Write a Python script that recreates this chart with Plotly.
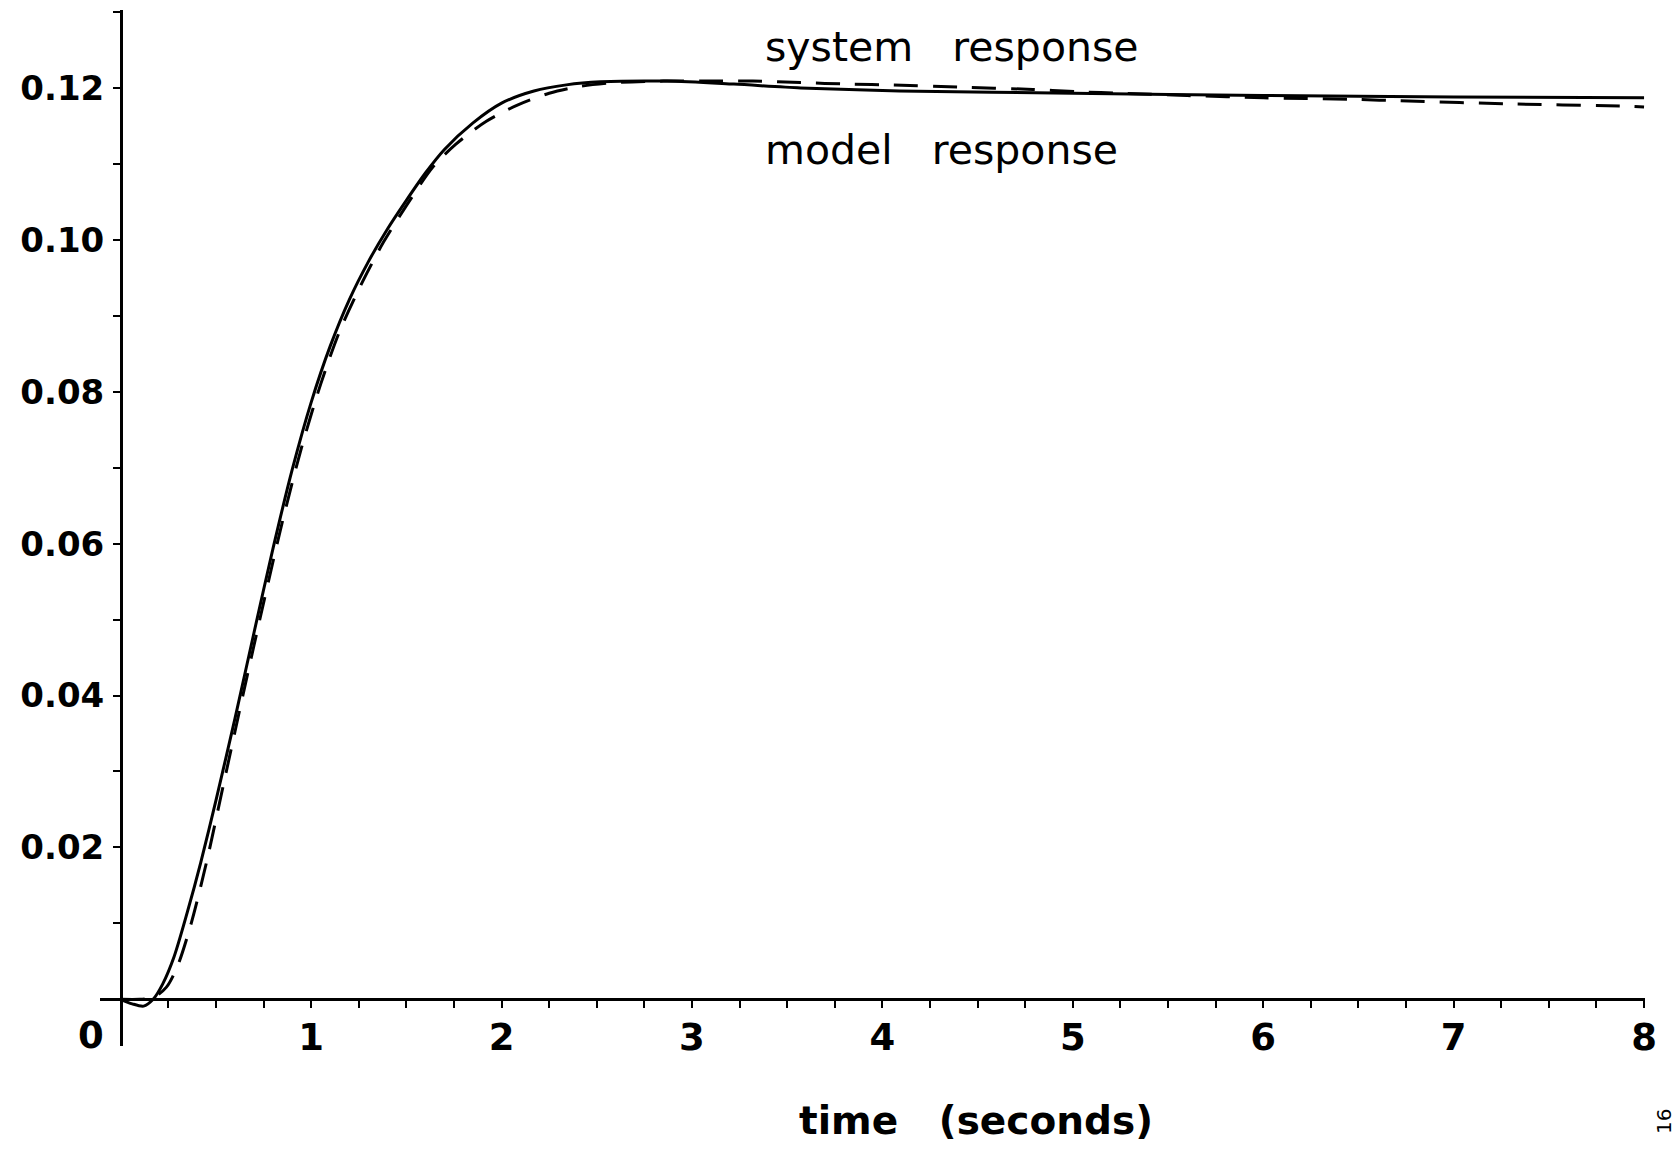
import plotly.graph_objects as go

# Step response of the measured system (solid) and of the fitted model (dashed)
system_t = [0, 0.06, 0.12, 0.17, 0.22, 0.28, 0.35, 0.42, 0.50, 0.60, 0.70, 0.80,
            0.90, 1.00, 1.10, 1.20, 1.30, 1.40, 1.50, 1.60, 1.70, 1.85, 2.00, 2.17,
            2.34, 2.52, 2.87, 3.22, 3.57, 4.09, 5.0, 6.0, 7.0, 8.0]
system_v = [0, -0.0006, -0.0009, 0.0, 0.0020, 0.0056, 0.0115, 0.0180, 0.0262,
            0.0370, 0.0483, 0.0594, 0.0697, 0.0786, 0.0860, 0.0921, 0.0971, 0.1014,
            0.1052, 0.1088, 0.1119, 0.1154, 0.1180, 0.1196, 0.1204, 0.1208, 0.1209,
            0.1205, 0.1200, 0.1196, 0.1193, 0.1190, 0.1188, 0.1187]

model_t = [0, 0.1, 0.17, 0.24, 0.3, 0.37, 0.45, 0.55, 0.65, 0.75, 0.85, 0.95, 1.05,
           1.15, 1.27, 1.38, 1.5, 1.64, 1.76, 1.92, 2.08, 2.25, 2.41, 2.6, 2.85,
           3.11, 3.32, 3.57, 3.83, 4.04, 4.4, 4.79, 5.02, 5.26, 5.6, 6.0, 6.47, 6.72,
           7.3, 7.9, 8.0]
model_v = [0, 0.0, 0.0002, 0.0016, 0.0045, 0.0100, 0.0180, 0.0295, 0.0410, 0.0522,
           0.0630, 0.0727, 0.0810, 0.0880, 0.0945, 0.0997, 0.1045, 0.1096, 0.1126,
           0.1156, 0.1177, 0.1193, 0.1202, 0.1207, 0.1209, 0.1209, 0.1209, 0.1207,
           0.1205, 0.1204, 0.1201, 0.1198, 0.1195, 0.1193, 0.1190, 0.1187, 0.1185,
           0.1183, 0.1179, 0.1176, 0.1175]

x_ticks = [1, 2, 3, 4, 5, 6, 7, 8]
x_labels = ["1", "2", "3", "4", "5", "6", "7", "8"]
y_ticks = [0.02, 0.04, 0.06, 0.08, 0.10, 0.12]
y_labels = ["0.02", "0.04", "0.06", "0.08", "0.10", "0.12"]

X_RANGE = [-0.109, 8.005]
Y_RANGE = [-0.00615, 0.13026]

FONT = "DejaVu Sans"
INK = "black"

fig = go.Figure()
fig.add_trace(go.Scatter(
    x=system_t, y=system_v, mode="lines", name="system response",
    line=dict(color=INK, width=3, shape="spline", smoothing=0.8),
))
fig.add_trace(go.Scatter(
    x=model_t, y=model_v, mode="lines", name="model response",
    line=dict(color=INK, width=3, dash="24px,15px", shape="spline", smoothing=0.8),
))

# axes cross at the origin: each axis line is placed at the other's zero
x_pos = (0 - Y_RANGE[0]) / (Y_RANGE[1] - Y_RANGE[0])
y_pos = (0 - X_RANGE[0]) / (X_RANGE[1] - X_RANGE[0])

W, H = 1679, 1149
L, R, T, B = 100, 34, 10, 103

fig.update_layout(
    width=W, height=H,
    margin=dict(l=L, r=R, t=T, b=B),
    paper_bgcolor="white", plot_bgcolor="white",
    showlegend=False,
    font=dict(family=FONT, color=INK),
    xaxis=dict(
        range=X_RANGE, anchor="free", position=x_pos,
        showgrid=False, zeroline=False,
        showline=True, linecolor=INK, linewidth=3,
        tickmode="array", tickvals=x_ticks, ticktext=x_labels,
        ticks="outside", ticklen=7, tickwidth=2, tickcolor=INK,
        ticklabelstandoff=-3,
        tickfont=dict(family=FONT, size=37, color=INK, weight="bold"),
        minor=dict(tickmode="array", tickvals=[i * 0.25 for i in range(0, 33)],
                   ticks="outside", ticklen=7, tickwidth=2, tickcolor=INK,
                   showgrid=False),
    ),
    yaxis=dict(
        range=Y_RANGE, anchor="free", position=y_pos,
        showgrid=False, zeroline=False,
        showline=True, linecolor=INK, linewidth=2.5,
        tickmode="array", tickvals=y_ticks, ticktext=y_labels,
        ticks="outside", ticklen=7, tickwidth=2, tickcolor=INK,
        ticklabelstandoff=2,
        tickfont=dict(family=FONT, size=34, color=INK, weight="bold"),
        minor=dict(tickmode="array", tickvals=[i * 0.01 for i in range(1, 14)],
                   ticks="outside", ticklen=7, tickwidth=2, tickcolor=INK,
                   showgrid=False),
    ),
)

NB = "\u00a0"
annotations = [
    # origin label sits left of the vertical axis
    dict(x=0, y=0, xref="x", yref="y", text="0", showarrow=False,
         xanchor="center", yanchor="middle", xshift=-30, yshift=-36,
         font=dict(family=FONT, size=37, color=INK, weight="bold")),
    dict(x=976, y=1120, text="time" + NB * 3 + "(seconds)",
         showarrow=False, xanchor="center", yanchor="middle",
         font=dict(family=FONT, size=39, color=INK, weight="bold")),
    dict(x=763, y=47, text="system" + NB * 3 + "response", showarrow=False,
         xanchor="left", yanchor="middle",
         font=dict(family=FONT, size=41, color=INK)),
    dict(x=763, y=150, text="model" + NB * 3 + "response", showarrow=False,
         xanchor="left", yanchor="middle",
         font=dict(family=FONT, size=41, color=INK)),
    dict(x=1664, y=1122, text="16", showarrow=False, textangle=-90,
         xanchor="center", yanchor="middle",
         font=dict(family=FONT, size=20, color=INK)),
]

# text positions above are given in page pixels; convert to paper fractions
pw, ph = W - L - R, H - T - B
for a in annotations:
    if a.get("xref") == "x":
        continue
    px, py = a["x"], a["y"]
    a["xref"], a["yref"] = "paper", "paper"
    a["x"] = (px - L) / pw
    a["y"] = (H - B - py) / ph
fig.update_layout(annotations=annotations)

fig.write_html("out.html")
